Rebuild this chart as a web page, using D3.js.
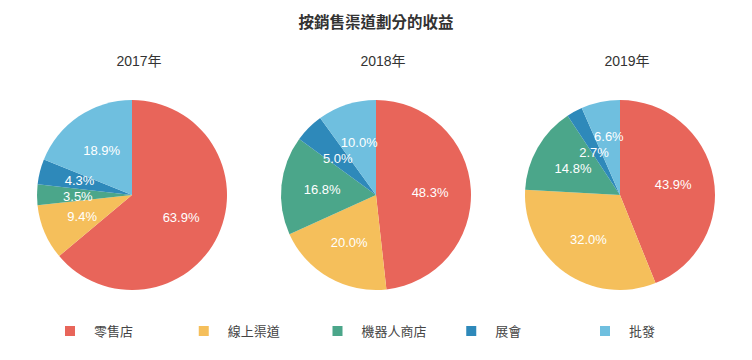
<!DOCTYPE html>
<html>
<head>
<meta charset="utf-8">
<script src="https://cdn.jsdelivr.net/npm/d3@7"></script>
<style>
  html, body { margin: 0; padding: 0; background: #fff; }
  svg { display: block; }
</style>
</head>
<body>
<svg id="chart" width="752" height="360"></svg>
<script>
const title = "按銷售渠道劃分的收益";
const categories = ["零售店", "線上渠道", "機器人商店", "展會", "批發"];
const years = ["2017年", "2018年", "2019年"];
const values2017 = [63.9, 9.4, 3.5, 4.3, 18.9];
const values2018 = [48.3, 20.0, 16.8, 5.0, 10.0];
const values2019 = [43.9, 32.0, 14.8, 2.7, 6.6];
const colors = ["#E8655A", "#F5BF5B", "#4BA68A", "#2E89BA", "#6FBFDF"];

const seriesValues = [values2017, values2018, values2019];

const W = 752, H = 360;
const svg = d3.select("#chart");
const fontLatin = "'Liberation Sans', Arial, 'Noto Sans CJK TC', sans-serif";

svg.append("text")
  .attr("x", W / 2).attr("y", 22)
  .attr("text-anchor", "middle").attr("dominant-baseline", "central")
  .attr("font-family", fontLatin)
  .attr("font-size", 15.5).attr("font-weight", "bold")
  .attr("fill", "#333")
  .text(title);

const x = d3.scalePoint().domain(years).range([132, 620]);
const radius = 95;
const cy = 195;
const color = d3.scaleOrdinal().domain(categories).range(colors);

const pie = d3.pie().sort(null).value(d => d.value);
const arc = d3.arc().innerRadius(0).outerRadius(radius);
const labelArc = d3.arc().innerRadius(radius * 0.57).outerRadius(radius * 0.57);

years.forEach((yr, i) => {
  const data = categories.map((c, j) => ({ cat: c, value: seriesValues[i][j] }));
  const g = svg.append("g").attr("transform", `translate(${x(yr)},${cy})`);

  svg.append("text")
    .attr("x", x(yr) + 7).attr("y", 61)
    .attr("text-anchor", "middle").attr("dominant-baseline", "central")
    .attr("font-family", fontLatin)
    .attr("font-size", 14).attr("fill", "#333")
    .text(yr);

  const arcs = pie(data);
  g.selectAll("path").data(arcs).join("path")
    .attr("d", arc)
    .attr("fill", d => color(d.data.cat))
    .attr("stroke", "none");

  const labels = g.selectAll("text.lbl").data(arcs).join("text")
    .attr("class", "lbl")
    .attr("text-anchor", "middle").attr("dominant-baseline", "central")
    .attr("font-family", fontLatin)
    .attr("font-size", 13).attr("fill", "#fff")
    .text(d => d.data.value.toFixed(1) + "%");

  // initial positions, then resolve overlaps vertically
  const pos = arcs.map(d => {
    const [px, py] = labelArc.centroid(d);
    return { x: px, y: py };
  });
  labels.each(function(d, k) { pos[k].w = this.getComputedTextLength(); });
  const minGap = 16;
  for (let iter = 0; iter < 30; iter++) {
    let moved = false;
    for (let a = 0; a < pos.length; a++) {
      for (let b = a + 1; b < pos.length; b++) {
        const p = pos[a], q = pos[b];
        const dx = Math.abs(p.x - q.x);
        const dy = q.y - p.y;
        if (dx < (p.w + q.w) / 2 && Math.abs(dy) < minGap) {
          const push = (minGap - Math.abs(dy)) / 2;
          const s = dy >= 0 ? 1 : -1;
          p.y -= s * push;
          q.y += s * push;
          moved = true;
        }
      }
    }
    if (!moved) break;
  }
  labels.attr("transform", (d, k) => `translate(${pos[k].x},${pos[k].y})`);
});

const lx = d3.scalePoint().domain(categories).range([65, 600]);
const legend = svg.append("g");
categories.forEach(c => {
  const item = legend.append("g").attr("transform", `translate(${lx(c)},331)`);
  item.append("rect")
    .attr("x", 0).attr("y", -5).attr("width", 10).attr("height", 10)
    .attr("fill", color(c));
  item.append("text")
    .attr("x", 29).attr("y", 0)
    .attr("dominant-baseline", "central")
    .attr("font-family", fontLatin)
    .attr("font-size", 13).attr("fill", "#444")
    .text(c);
});
</script>
</body>
</html>
